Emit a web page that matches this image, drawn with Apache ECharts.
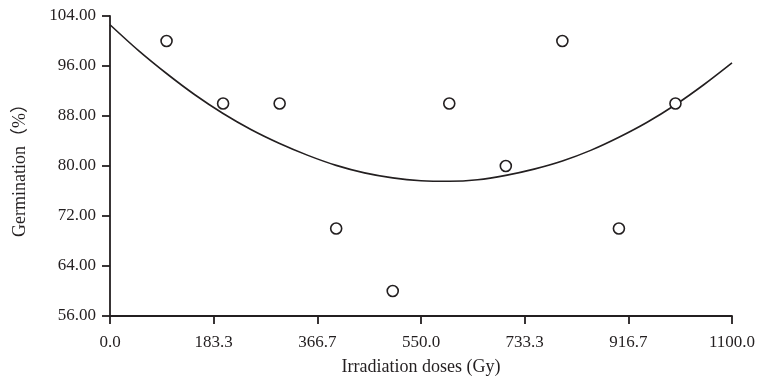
<!DOCTYPE html>
<html>
<head>
<meta charset="utf-8">
<script src="https://cdn.jsdelivr.net/npm/echarts@6/dist/echarts.min.js"></script>
<style>
html,body{margin:0;padding:0;background:#fff;}
#chart{width:759px;height:381px;}
</style>
</head>
<body>
<div id="chart"></div>
<script>
// Observed data points
const doses = [100, 200, 300, 400, 500, 600, 700, 800, 900, 1000];
const germination = [100, 90, 90, 70, 60, 90, 80, 100, 70, 90];

// Fitted curve
const curveX = [0, 50, 100, 150, 200, 250, 300, 350, 400, 450, 500, 550, 600, 650, 700, 750, 800, 850, 900, 950, 1000, 1050, 1100];
const curveY = [102.6, 98.5, 94.8, 91.4, 88.4, 85.8, 83.6, 81.7, 80.1, 78.9, 78.1, 77.65, 77.55, 77.8, 78.5, 79.5, 80.8, 82.5, 84.6, 87.0, 89.8, 93.0, 96.5];

// Tick labels
const xTickLabels = ['0.0', '183.3', '366.7', '550.0', '733.3', '916.7', '1100.0'];
const yTickLabels = ['56.00', '64.00', '72.00', '80.00', '88.00', '96.00', '104.00'];

const xStep = 1100 / 6;
const font = "'Liberation Serif', 'Noto Sans CJK SC', serif";
const ink = '#231f20';

const chart = echarts.init(document.getElementById('chart'), null, {renderer: 'canvas'});
chart.setOption({
  animation: false,
  backgroundColor: '#fff',
  grid: {left: 110, right: 27, top: 16, bottom: 65, containLabel: false},
  xAxis: {
    type: 'value', min: 0, max: 1100, interval: xStep,
    name: 'Irradiation doses (Gy)', nameLocation: 'middle', nameGap: 42,
    nameTextStyle: {fontFamily: font, fontSize: 18, color: ink},
    axisLine: {show: true, onZero: false, lineStyle: {color: ink, width: 1.8}},
    axisTick: {show: true, inside: false, length: 8, lineStyle: {color: ink, width: 1.8}},
    axisLabel: {
      margin: 18, fontFamily: font, fontSize: 17, color: ink,
      formatter: v => xTickLabels[Math.round(v / xStep)]
    },
    splitLine: {show: false}
  },
  yAxis: {
    type: 'value', min: 56, max: 104, interval: 8,
    name: 'Germination（%）', nameLocation: 'middle', nameGap: 81,
    nameTextStyle: {fontFamily: font, fontSize: 18, color: ink},
    axisLine: {show: true, lineStyle: {color: ink, width: 1.8}},
    axisTick: {show: true, inside: false, length: 8, lineStyle: {color: ink, width: 1.8}},
    axisLabel: {
      margin: 14, fontFamily: font, fontSize: 17, color: ink,
      formatter: v => yTickLabels[Math.round((v - 56) / 8)]
    },
    splitLine: {show: false}
  },
  series: [
    {
      type: 'line', z: 2,
      data: curveX.map((x, i) => [x, curveY[i]]),
      smooth: 0.3, showSymbol: false, symbol: 'none',
      lineStyle: {color: ink, width: 1.6}
    },
    {
      type: 'scatter', z: 5,
      data: doses.map((x, i) => [x, germination[i]]),
      symbol: 'circle', symbolSize: 11,
      itemStyle: {color: '#fff', borderColor: ink, borderWidth: 1.6, opacity: 1}
    }
  ]
});
</script>
</body>
</html>
